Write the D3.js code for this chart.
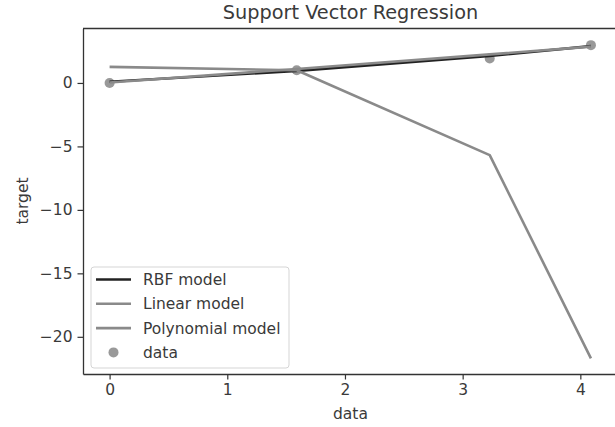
<!DOCTYPE html>
<html>
<head>
<meta charset="utf-8">
<script src="https://cdnjs.cloudflare.com/ajax/libs/d3/7.8.5/d3.min.js"></script>
<style>
  body { margin: 0; background: #fff; }
  svg { display: block; font-family: "DejaVu Sans", sans-serif; }
</style>
</head>
<body>
<div class="chart"></div>
<script>
var width = 615;
var height = 427;

// values
var xData = [0, 1.59, 3.23, 4.09];
var yData = [0, 1.0, 1.93, 2.98];
var rbfModel = [0.1, 0.95, 2.12, 2.9];
var linearModel = [0.04, 1.1, 2.25, 2.86];
var polyModel = [1.27, 1.0, -5.69, -21.7];
var xTicks = [0, 1, 2, 3, 4];
var yTicks = [0, -5, -10, -15, -20];

var legendItems = [
  {label: "RBF model", type: "line", color: "#222"},
  {label: "Linear model", type: "line", color: "#8a8a8a"},
  {label: "Polynomial model", type: "line", color: "#8a8a8a"},
  {label: "data", type: "dot", color: "#999"}
];

var margin = {left: 83, top: 28.5, right: -3, bottom: 53};

var svg = d3.select(".chart").append("svg")
    .attr("width", width)
    .attr("height", height);

var x = d3.scaleLinear()
    .domain([-0.226, 4.32])
    .range([margin.left, width - margin.right]);

var y = d3.scaleLinear()
    .domain([-22.93, 4.29])
    .range([height - margin.bottom, margin.top]);

// data points sit under the lines
svg.append("g")
  .selectAll("circle")
  .data(xData)
  .enter().append("circle")
    .attr("cx", function(d) { return x(d); })
    .attr("cy", function(d, i) { return y(yData[i]); })
    .attr("r", 5)
    .attr("fill", "#999");

var line = d3.line()
    .x(function(d) { return x(d[0]); })
    .y(function(d) { return y(d[1]); });

var series = [
  {vals: rbfModel, color: "#222"},
  {vals: linearModel, color: "#8a8a8a"},
  {vals: polyModel, color: "#8a8a8a"}
];

svg.append("g")
  .selectAll("path")
  .data(series)
  .enter().append("path")
    .attr("d", function(s) { return line(d3.zip(xData, s.vals)); })
    .attr("fill", "none")
    .attr("stroke", function(s) { return s.color; })
    .attr("stroke-width", 2.6)
    .attr("stroke-linejoin", "round");

//axes
var xAxis = svg.append("g")
    .attr("transform", "translate(0," + (height - margin.bottom) + ")")
    .call(d3.axisBottom(x).tickValues(xTicks).tickFormat(d3.format("d")).tickSizeInner(5.5).tickSizeOuter(0).tickPadding(4));

var yAxis = svg.append("g")
    .attr("transform", "translate(" + margin.left + ",0)")
    .call(d3.axisLeft(y).tickValues(yTicks).tickFormat(function(d) { return d < 0 ? "\u2212" + Math.abs(d) : d; }).tickSizeInner(5.5).tickSizeOuter(0).tickPadding(5));

[xAxis, yAxis].forEach(function(a) {
  a.select(".domain").attr("stroke", "#333").attr("stroke-width", 1.3);
  a.selectAll(".tick line").attr("stroke", "#333").attr("stroke-width", 1.2);
  a.selectAll(".tick text").attr("fill", "#3a3a3a").style("font-size", "15.5px").style("font-family", "DejaVu Sans");
});

// top spine
svg.append("line")
    .attr("x1", margin.left).attr("x2", width)
    .attr("y1", margin.top).attr("y2", margin.top)
    .attr("stroke", "#333").attr("stroke-width", 1.3);

svg.append("text")
    .attr("x", x(2.047))
    .attr("y", 19)
    .attr("text-anchor", "middle")
    .attr("fill", "#3a3a3a")
    .style("font-size", "19.3px")
    .text("Support Vector Regression");

svg.append("text")
    .attr("x", x(2.047))
    .attr("y", 419)
    .attr("text-anchor", "middle")
    .attr("fill", "#3a3a3a")
    .style("font-size", "15.5px")
    .text("data");

svg.append("text")
    .attr("transform", "translate(28," + y(-9.3) + ") rotate(-90)")
    .attr("text-anchor", "middle")
    .attr("fill", "#3a3a3a")
    .style("font-size", "15.5px")
    .text("target");

//legend
var legend = svg.append("g").attr("class", "legend");

legend.append("rect")
    .attr("x", 91).attr("y", 267)
    .attr("width", 198).attr("height", 101)
    .attr("rx", 3)
    .attr("fill", "#fff").attr("fill-opacity", 0.8)
    .attr("stroke", "#d5d5d5");

var item = legend.selectAll(".item")
    .data(legendItems)
  .enter().append("g")
    .attr("class", "item")
    .attr("transform", function(d, i) { return "translate(0," + (279.5 + i * 24.3) + ")"; });

item.filter(function(d) { return d.type == "line"; })
  .append("line")
    .attr("x1", 96).attr("x2", 131)
    .attr("stroke", function(d) { return d.color; })
    .attr("stroke-width", 2.6);

item.filter(function(d) { return d.type == "dot"; })
  .append("circle")
    .attr("cx", 113.5).attr("r", 5)
    .attr("fill", function(d) { return d.color; });

item.append("text")
    .attr("x", 143)
    .attr("dy", "0.35em")
    .attr("fill", "#3a3a3a")
    .style("font-size", "15.5px")
    .text(function(d) { return d.label; });
</script>
</body>
</html>
